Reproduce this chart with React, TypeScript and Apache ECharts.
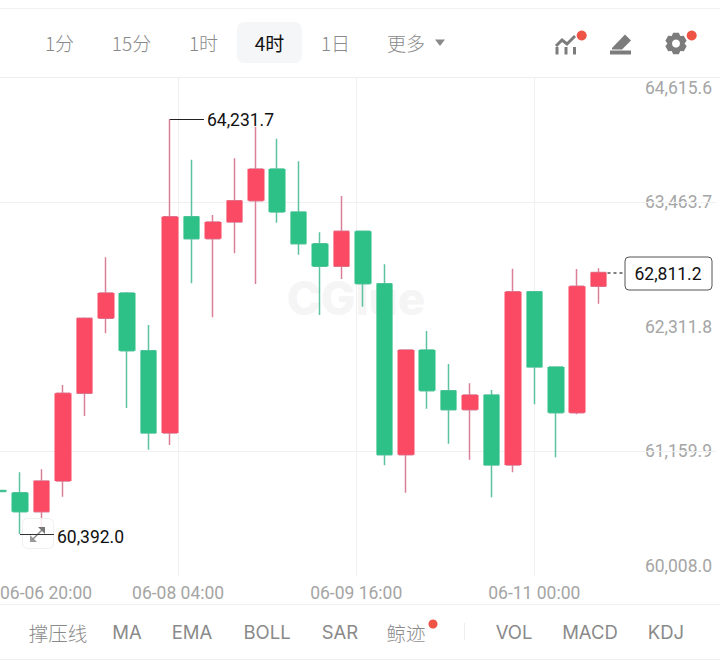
import React, { useEffect, useRef } from "react";
import * as echarts from "echarts";

const FONT = "Inter, Roboto, sans-serif";
const NUM = "Roboto, Inter, sans-serif";
const CJK = "'Noto Sans CJK SC', Inter, sans-serif";

const categories = [
  "06-06 20:00","06-07 00:00","06-07 04:00","06-07 08:00","06-07 12:00","06-07 16:00","06-07 20:00",
  "06-08 00:00","06-08 04:00","06-08 08:00","06-08 12:00","06-08 16:00","06-08 20:00",
  "06-09 00:00","06-09 04:00","06-09 08:00","06-09 12:00","06-09 16:00","06-09 20:00",
  "06-10 00:00","06-10 04:00","06-10 08:00","06-10 12:00","06-10 16:00","06-10 20:00",
  "06-11 00:00","06-11 04:00","06-11 08:00","06-11 12:00",
  "06-11 16:00","06-11 20:00","06-12 00:00","06-12 04:00","06-12 08:00",
];
const opens = [60795,60774.2,60598.4,60882.4,61693.8,62387.7,62621.8,62088,61326.5,63327.7,63124.2,63278.7,63475.8,63769,63371.2,63077.9,62868.8,63192.6,62707.8,61125.7,62094.4,61717.9,61542.1,61678.1,61030.4,62633.8,61937.1,61514.3,62683.8];
const closes = [60785,60598.4,60882.4,61693.8,62387.7,62621.8,62088,61326.5,63327.7,63124.2,63278.7,63475.8,63769,63371.2,63077.9,62868.8,63192.6,62707.8,61125.7,62094.4,61717.9,61542.1,61678.1,61030.4,62633.8,61937.1,61514.3,62683.8,62811.2];
const lows = [60780,60392,60452.2,60737.2,61483.8,62248.9,61557.8,61172,61215.5,62711.6,62397,62989.1,62705.1,63272.2,62976.1,62418.2,62751.3,62495,61027.7,60774.2,61551.4,61227.5,61079.5,60731.6,60962.9,61592,61101.7,61500,62522.8];
const highs = [60800,60962.9,60990.7,61770.6,62397,62952.1,62631,62325.7,64231.7,63855.1,63343.4,63868,64160.4,64049.4,63840.3,63183.4,63519.2,63192.6,62887.3,62094.4,62270.2,61964.9,61786.4,61724.3,62846.6,62640,61945,62843.8,62850.3];

const priceMin = 60008.0;
const priceMax = 64615.6;
const priceStep = 1151.9;
const gridPrices = [63463.7, 61159.9];
const timeLabels = ["06-06 20:00", "06-08 04:00", "06-09 16:00", "06-11 00:00"];
const periods = ["1分", "15分", "1时", "4时", "1日", "更多"];
const periodX = [59.5, 131.5, 203.5, 269.5, 335.5, 406];
const indicators = ["撑压线", "MA", "EMA", "BOLL", "SAR", "鲸迹", "VOL", "MACD", "KDJ"];
const indicatorX = [58, 127, 192, 267, 340, 406, 514, 590, 666];
const highLabel = "64,231.7";
const lowLabel = "60,392.0";
const lastLabel = "62,811.2";
const watermark = "CGlue";

const RED = "#fb4a63";
const GREEN = "#2dc087";
const RED_WICK = "#d97f97";
const GREEN_WICK = "#5cc3a0";
const GRAY = "#8a8a8a";
const ICON = "#7c7c7c";
const DOT = "#ee5345";
const LINE = "#f0f0f0";

const fmt = (v: number) =>
  v.toLocaleString("en-US", { minimumFractionDigits: 1, maximumFractionDigits: 1 });

const label = (text: string, x: number, y: number, size: number, fill: string, extra: any = {}) => ({
  type: "text",
  x,
  y,
  silent: true,
  z: 20,
  style: { text, fill, font: `${extra.weight || 400} ${size}px ${extra.font || FONT}`, align: extra.align || "center", verticalAlign: "middle" },
});

const hline = (x1: number, x2: number, y: number, stroke: string, w = 1, dash?: number[], z = 20) => ({
  type: "line",
  silent: true,
  z,
  shape: { x1, y1: y, x2, y2: y },
  style: { stroke, lineWidth: w, lineDash: dash },
});

function gearPoints(cx: number, cy: number) {
  const pts: number[][] = [];
  for (let i = 0; i < 6; i++) {
    const a = (Math.PI / 3) * i - Math.PI / 2;
    [-0.26, 0.26].forEach((d) => pts.push([cx + 11 * Math.cos(a + d), cy + 11 * Math.sin(a + d)]));
    pts.push([cx + 8.6 * Math.cos(a + Math.PI / 6), cy + 8.6 * Math.sin(a + Math.PI / 6)]);
  }
  return pts;
}

export default function App() {
  const ref = useRef<HTMLDivElement>(null);
  useEffect(() => {
    const chart = echarts.init(ref.current!, undefined, { renderer: "svg" });
    const wicks = opens.map((o, i) => [o, closes[i], lows[i], highs[i]]);
    const bodies = opens.map((o, i) => [o, closes[i], Math.min(o, closes[i]), Math.max(o, closes[i])]);
    const graphics: any[] = [
      // header
      hline(0, 720, 8.5, "#f1f1f1"),
      hline(0, 720, 77.5, "#eeeeee"),
      { type: "rect", silent: true, z: 10, shape: { x: 237, y: 22, width: 65, height: 41, r: 7 }, style: { fill: "#f5f6f7" } },
      ...periods.map((p, i) => label(p, periodX[i], 42.5, 19, i === 3 ? "#111111" : GRAY, { font: CJK, weight: i === 3 ? 400 : 300 })),
      { type: "polygon", silent: true, z: 20, shape: { points: [[435, 39.5], [445, 39.5], [440, 46]] }, style: { fill: GRAY } },
      // indicator icon
      { type: "polyline", silent: true, z: 20, shape: { points: [[556, 46], [562, 40], [567, 44], [575, 36]] }, style: { stroke: ICON, lineWidth: 3, fill: "none" } },
      ...[555.5, 564.5, 573].map((x) => ({ type: "rect", silent: true, z: 20, shape: { x, y: 47, width: 3, height: 7.5 }, style: { fill: ICON } })),
      { type: "circle", silent: true, z: 21, shape: { cx: 581.7, cy: 35.5, r: 5 }, style: { fill: DOT } },
      // pencil icon
      { type: "polygon", silent: true, z: 20, shape: { points: [[612, 48], [625, 34.5], [631, 40.5], [622, 49.5], [612, 49.5]] }, style: { fill: ICON } },
      { type: "rect", silent: true, z: 20, shape: { x: 610, y: 50.5, width: 21, height: 4 }, style: { fill: ICON } },
      // gear icon
      { type: "polygon", silent: true, z: 20, shape: { points: gearPoints(676, 43.5) }, style: { fill: ICON } },
      { type: "circle", silent: true, z: 21, shape: { cx: 676, cy: 43.5, r: 4 }, style: { fill: "#ffffff" } },
      { type: "circle", silent: true, z: 21, shape: { cx: 691.7, cy: 35.5, r: 5 }, style: { fill: DOT } },
      // watermark
      { type: "text", silent: true, z: 0, x: 356, y: 298, style: { text: watermark, fill: "#f5f5f5", font: `800 46px ${FONT}`, align: "center", verticalAlign: "middle" } },
      // expand button
      { type: "rect", silent: true, z: 15, shape: { x: 22.5, y: 518.5, width: 31, height: 30, r: 5 }, style: { fill: "rgba(255,255,255,0.85)", stroke: "#f0f0f0", lineWidth: 1 } },
      { type: "polygon", silent: true, z: 16, shape: { points: [[38, 527], [45, 527], [45, 534]] }, style: { fill: "#777777" } },
      { type: "polygon", silent: true, z: 16, shape: { points: [[30, 535], [30, 542], [37, 542]] }, style: { fill: "#999999" } },
      { type: "line", silent: true, z: 16, shape: { x1: 33, y1: 539, x2: 42, y2: 530 }, style: { stroke: "#888888", lineWidth: 1.5 } },
      // extreme annotations
      hline(170, 204, 119.5, "#222222"),
      label(highLabel, 207, 120, 17.5, "#111111", { align: "left", font: NUM }),
      hline(20, 54, 534.5, "#333333"),
      label(lowLabel, 57, 537, 17.5, "#111111", { align: "left", font: NUM }),
      // last price
      hline(607.5, 625, 273, "#555555", 1.5, [3, 3]),
      { type: "rect", silent: true, z: 20, shape: { x: 625, y: 257, width: 87, height: 33, r: 4 }, style: { fill: "#ffffff", stroke: "#555555", lineWidth: 1 } },
      label(lastLabel, 668, 273.5, 17.5, "#111111", { font: NUM }),
      // footer
      hline(0, 720, 604.5, "#f1f1f1"),
      hline(0, 720, 659.5, "#eeeeee"),
      ...indicators.map((t, i) => label(t, indicatorX[i], 632, /[A-Z]/.test(t) ? 18.5 : 19.5, GRAY, { font: /[A-Z]/.test(t) ? FONT : CJK, weight: /[A-Z]/.test(t) ? 400 : 300 })),
      { type: "circle", silent: true, z: 21, shape: { cx: 433, cy: 624, r: 4.5 }, style: { fill: DOT } },
      { type: "line", silent: true, z: 20, shape: { x1: 464.5, y1: 623, x2: 464.5, y2: 640 }, style: { stroke: "#eeeeee", lineWidth: 1 } },
    ];
    chart.setOption({
      animation: false,
      backgroundColor: "#ffffff",
      grid: [
        { left: -12.1, top: 77.5, width: 728.6, height: 498, outerBoundsMode: "none" },
        { left: 0, top: 77.5, width: 712.4, height: 498, outerBoundsMode: "none" },
      ],
      xAxis: [
        { type: "category", gridIndex: 0, data: categories, show: false, boundaryGap: true },
        {
          type: "value",
          gridIndex: 1,
          min: 0,
          max: 4,
          interval: 1,
          axisLine: { show: false },
          axisTick: { show: false },
          splitLine: { show: true, showMinLine: false, showMaxLine: false, lineStyle: { color: LINE, width: 1 } },
          axisLabel: {
            color: "#a5a5a5",
            fontFamily: NUM,
            fontSize: 17.5,
            margin: 8,
            alignMinLabel: "left",
            formatter: (v: number) => timeLabels[v] || "",
          },
        },
      ],
      yAxis: [
        {
          type: "value",
          gridIndex: 0,
          position: "right",
          min: priceMin,
          max: priceMax,
          interval: priceStep,
          axisLine: { show: false },
          axisTick: { show: false },
          splitLine: { show: false },
          axisLabel: {
            inside: true,
            margin: 4.5,
            color: "#a5a5a5",
            fontFamily: NUM,
            fontSize: 17.5,
            lineHeight: 20,
            backgroundColor: "#ffffff",
            verticalAlignMaxLabel: "top",
            verticalAlignMinLabel: "bottom",
            formatter: (v: number) => fmt(v),
          },
        },
        { type: "value", gridIndex: 1, min: 0, max: 1, show: false, splitLine: { show: false } },
      ],
      series: [
        {
          type: "candlestick",
          name: "wick",
          xAxisIndex: 0,
          yAxisIndex: 0,
          z: 3,
          silent: true,
          barWidth: 14,
          data: wicks,
          itemStyle: { color: RED_WICK, color0: GREEN_WICK, borderColor: RED_WICK, borderColor0: GREEN_WICK, borderWidth: 1.5 },
          markLine: {
            silent: true,
            symbol: "none",
            z: 1,
            label: { show: false },
            lineStyle: { color: LINE, width: 1, type: "solid" },
            data: gridPrices.map((yAxis) => ({ yAxis })),
          },
        },
        {
          type: "candlestick",
          name: "body",
          xAxisIndex: 0,
          yAxisIndex: 0,
          z: 4,
          silent: true,
          barWidth: 17,
          data: bodies,
          itemStyle: { color: RED, color0: GREEN, borderColor: RED, borderColor0: GREEN, borderWidth: 0 },
        },
      ],
      graphic: graphics,
    });
    return () => chart.dispose();
  }, []);
  return <div ref={ref} style={{ position: "fixed", left: 0, top: 0, width: 720, height: 662, background: "#fff" }} />;
}
